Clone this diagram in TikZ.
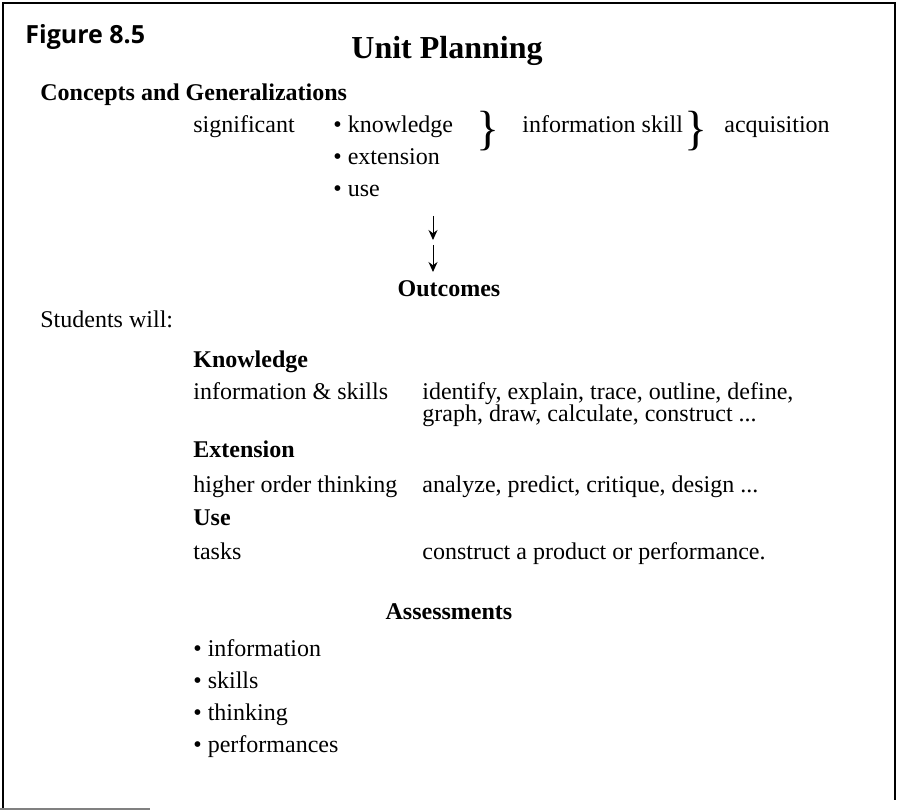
\documentclass[tikz,border=0pt]{standalone}
\usepackage{fontspec}
\setmainfont{Liberation Serif}
\setsansfont{Open Sans}
\usetikzlibrary{arrows.meta}
\tikzset{
  txt/.style={anchor=west, inner sep=0pt, font=\fontsize{12}{14}\selectfont, text height=8.5pt, text depth=3pt},
  head/.style={txt, font=\fontsize{12}{14}\selectfont\bfseries},
  midhead/.style={head, anchor=center},
  brace/.style={inner sep=0pt, font=\fontsize{24}{24}\selectfont},
  arr/.style={line width=0.5pt, -{Stealth[length=5pt,width=4.5pt]}},
  frame/.style={line width=1.2pt}
}
\begin{document}
\begin{tikzpicture}[x=0.5pt, y=-0.5pt]
\useasboundingbox (0,0) rectangle (900,812);
\draw [frame] (3,808) -- (3,3) -- (895,3) -- (895,800);
\draw [gray, line width=0.8pt] (0,809) -- (150,809);

\node [anchor=west, inner sep=0pt, font=\sffamily\bfseries\fontsize{12.5}{15}\selectfont] (fig) at (25,37) {Figure 8.5};
\node [inner sep=0pt, font=\fontsize{16}{19}\selectfont\bfseries] (title) at (447,51) {Unit Planning};

\node [head] (cg) at (40,95) {Concepts and Generalizations};
\node [txt] (signif) at (193,127) {significant};
\node [txt] (know) at (333,127) {\textbullet\ knowledge};
\node [txt] (ext) at (333,159) {\textbullet\ extension};
\node [txt] (use) at (333,191) {\textbullet\ use};
\node [brace] (br1) at (488,131) {\}};
\node [txt] (infskill) at (522,127) {information skill};
\node [brace] (br2) at (696,131) {\}};
\node [txt] (acq) at (724,127) {acquisition};

\coordinate (a1) at (433,216);
\coordinate (b1) at (433,240);
\coordinate (a2) at (433,245);
\coordinate (b2) at (433,272);
\draw [arr] (a1) -- (b1);
\draw [arr] (a2) -- (b2);

\node [midhead] (outc) at (449,291) {Outcomes};
\node [txt] (stud) at (40,322) {Students will:};

\node [head] (knowh) at (193,362) {Knowledge};
\node [txt] (infsk) at (193,394) {information \& skills};
\node [txt] (verbs1) at (422,394) {identify, explain, trace, outline, define,};
\node [txt] (verbs2) at (422,416) {graph, draw, calculate, construct ...};
\node [head] (exth) at (193,452) {Extension};
\node [txt] (hot) at (193,487) {higher order thinking};
\node [txt] (verbs3) at (422,487) {analyze, predict, critique, design ...};
\node [head] (useh) at (193,520) {Use};
\node [txt] (tasks) at (193,554) {tasks};
\node [txt] (verbs4) at (422,554) {construct a product or performance.};

\node [midhead] (assess) at (449,614) {Assessments};
\node [txt] (ainf) at (193,651) {\textbullet\ information};
\node [txt] (askl) at (193,683) {\textbullet\ skills};
\node [txt] (athk) at (193,715) {\textbullet\ thinking};
\node [txt] (aperf) at (193,747) {\textbullet\ performances};
\end{tikzpicture}
\end{document}
